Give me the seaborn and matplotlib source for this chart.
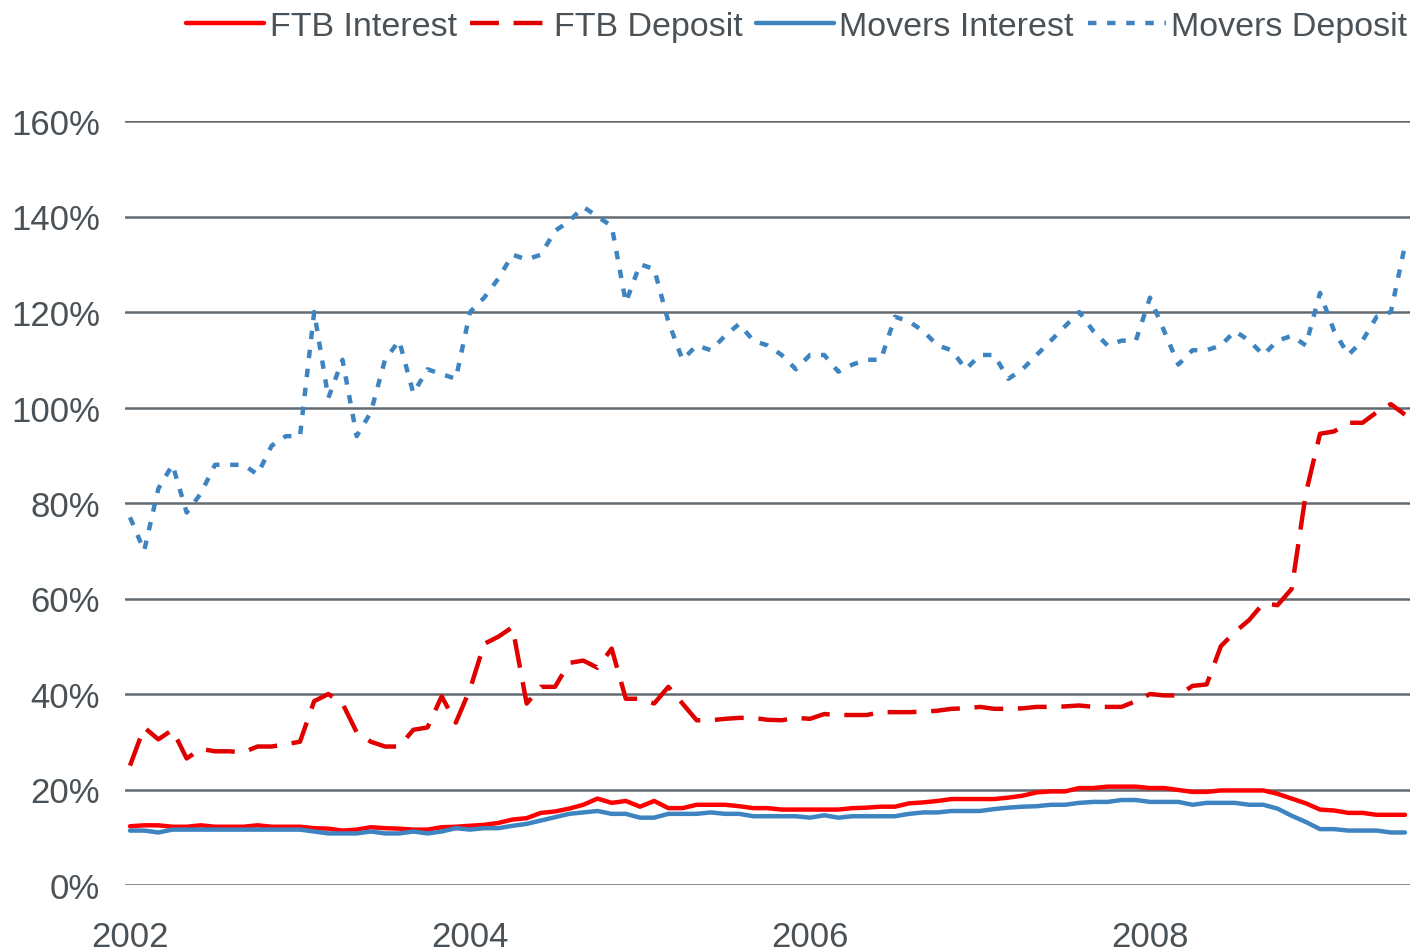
import numpy as np
import pandas as pd
import matplotlib
matplotlib.use("Agg")
import matplotlib.pyplot as plt
import seaborn as sns

# monthly values, Jan 2002 .. Jul 2009 (in %)
ftb_interest = [12.3, 12.5, 12.5, 12.2, 12.2, 12.5, 12.2, 12.2, 12.2, 12.5, 12.2, 12.2,
                12.2, 11.9, 11.8, 11.4, 11.6, 12.1, 11.9, 11.8, 11.6, 11.6, 12.1, 12.2,
                12.4, 12.6, 13.0, 13.7, 14.0, 15.1, 15.4, 16.0, 16.8, 18.1, 17.2, 17.6,
                16.4, 17.6, 16.1, 16.1, 16.8, 16.8, 16.8, 16.5, 16.1, 16.1, 15.8, 15.8,
                15.8, 15.8, 15.8, 16.1, 16.2, 16.4, 16.4, 17.1, 17.3, 17.6, 18.0, 18.0,
                18.0, 18.0, 18.3, 18.7, 19.4, 19.6, 19.6, 20.3, 20.3, 20.6, 20.6, 20.6,
                20.3, 20.3, 19.9, 19.5, 19.5, 19.8, 19.8, 19.8, 19.8, 19.1, 18.1, 17.1,
                15.8, 15.6, 15.1, 15.1, 14.7, 14.7, 14.7]
ftb_deposit = [25.0, 33.0, 30.5, 32.5, 26.5, 28.5, 28.0, 28.0, 27.8, 29.0, 29.0, 29.5,
               30.0, 38.5, 40.0, 38.0, 32.0, 30.0, 29.0, 29.0, 32.5, 33.0, 39.5, 34.0,
               41.0, 50.5, 52.0, 54.0, 38.0, 41.5, 41.5, 46.5, 47.0, 45.5, 49.5, 39.0,
               39.0, 38.0, 41.5, 38.0, 34.5, 34.5, 34.8, 35.0, 35.0, 34.6, 34.5, 35.0,
               34.8, 35.8, 35.6, 35.6, 35.6, 36.2, 36.2, 36.2, 36.3, 36.5, 36.9, 37.0,
               37.3, 36.9, 36.9, 37.0, 37.3, 37.3, 37.4, 37.6, 37.3, 37.3, 37.3, 38.5,
               40.0, 39.7, 39.7, 41.7, 42.0, 50.0, 53.0, 55.5, 59.0, 58.6, 62.0, 82.0,
               94.5, 95.0, 96.8, 96.8, 99.0, 100.7, 98.5]
movers_interest = [11.4, 11.4, 11.0, 11.6, 11.6, 11.6, 11.6, 11.6, 11.6, 11.6, 11.6, 11.6,
                   11.6, 11.2, 10.8, 10.8, 10.8, 11.2, 10.8, 10.8, 11.2, 10.8, 11.2, 11.9,
                   11.6, 11.9, 11.9, 12.4, 12.8, 13.5, 14.2, 14.9, 15.2, 15.5, 14.9, 14.9,
                   14.1, 14.1, 14.9, 14.9, 14.9, 15.2, 14.9, 14.9, 14.4, 14.4, 14.4, 14.4,
                   14.1, 14.6, 14.1, 14.4, 14.4, 14.4, 14.4, 14.9, 15.2, 15.2, 15.5, 15.5,
                   15.5, 15.9, 16.2, 16.4, 16.5, 16.8, 16.8, 17.2, 17.4, 17.4, 17.8, 17.8,
                   17.4, 17.4, 17.4, 16.8, 17.2, 17.2, 17.2, 16.8, 16.8, 16.0, 14.5, 13.2,
                   11.7, 11.7, 11.4, 11.4, 11.4, 11.0, 11.0]
movers_deposit = [77, 70, 83, 88, 78, 82, 88, 88, 88, 86, 92, 94,
                  94, 120, 102, 110, 94, 99, 110, 114, 103, 108, 107, 106,
                  120, 123, 127, 132, 131, 132, 137, 139, 142, 140, 138, 122,
                  130, 129, 118, 110, 113, 112, 115, 117.5, 114, 113, 111, 108,
                  111, 111, 107.5, 109, 110, 110, 119, 118, 116, 113, 112, 108,
                  111, 111, 106, 108, 111, 114, 117, 120, 116, 113, 114, 114,
                  123, 116, 109, 112, 112, 113, 116, 114, 111, 114, 115, 113,
                  124, 116, 111, 114, 119, 120, 134]

series_names = ["FTB Interest", "FTB Deposit", "Movers Interest", "Movers Deposit"]
year_ticks = [2002, 2004, 2006, 2008]
y_ticks = [0, 20, 40, 60, 80, 100, 120, 140, 160]

months = 2002 + np.arange(len(ftb_interest)) / 12
df = pd.concat([
    pd.DataFrame({"date": months, "value": vals, "series": name})
    for name, vals in zip(series_names,
                          [ftb_interest, ftb_deposit, movers_interest, movers_deposit])
])

sns.set_style("white")
plt.rcParams["font.family"] = ["Liberation Sans", "DejaVu Sans"]
text_col = "#4a5257"

palette = {"FTB Interest": "#ff0000", "FTB Deposit": "#e00000",
           "Movers Interest": "#3d84c0", "Movers Deposit": "#3d84c0"}
dashes = {"FTB Interest": "", "FTB Deposit": (6.5, 3.3),
          "Movers Interest": "", "Movers Deposit": (1.9, 2.4)}

fig = plt.figure(figsize=(14.15, 9.53), dpi=100)
ax = fig.add_axes([125 / 1415, 67 / 953, 1285 / 1415, 764 / 953])

sns.lineplot(data=df, x="date", y="value", hue="series", style="series",
             hue_order=series_names, style_order=series_names,
             palette=palette, dashes=dashes, linewidth=3.2, ax=ax)

ax.set_xlim(2002 - 5 / 170, 2009.5 + 5 / 170)
ax.set_ylim(0, 160)
ax.set_xticks(year_ticks)
ax.set_xticklabels([str(y) for y in year_ticks])
ax.set_yticks(y_ticks)
ax.set_yticklabels([f"{v}%" for v in y_ticks])
ax.set_xlabel("")
ax.set_ylabel("")
ax.tick_params(axis="y", length=0, pad=18, labelsize=25, labelcolor=text_col)
ax.tick_params(axis="x", length=0, pad=25, labelsize=25, labelcolor=text_col)
ax.grid(axis="y", color="#646b70", linewidth=1.8)
ax.grid(axis="x", visible=False)
ax.set_axisbelow(True)
sns.despine(ax=ax, left=True, bottom=True)

handles, labels = ax.get_legend_handles_labels()
ax.get_legend().remove()
fig.legend(handles, labels, loc="upper right", bbox_to_anchor=(1.016, 1.02),
           ncol=4, frameon=False, fontsize=24.5, labelcolor=text_col,
           handlelength=2.3, handletextpad=0.15, columnspacing=0.4)

fig.savefig("out.png", dpi=100)
